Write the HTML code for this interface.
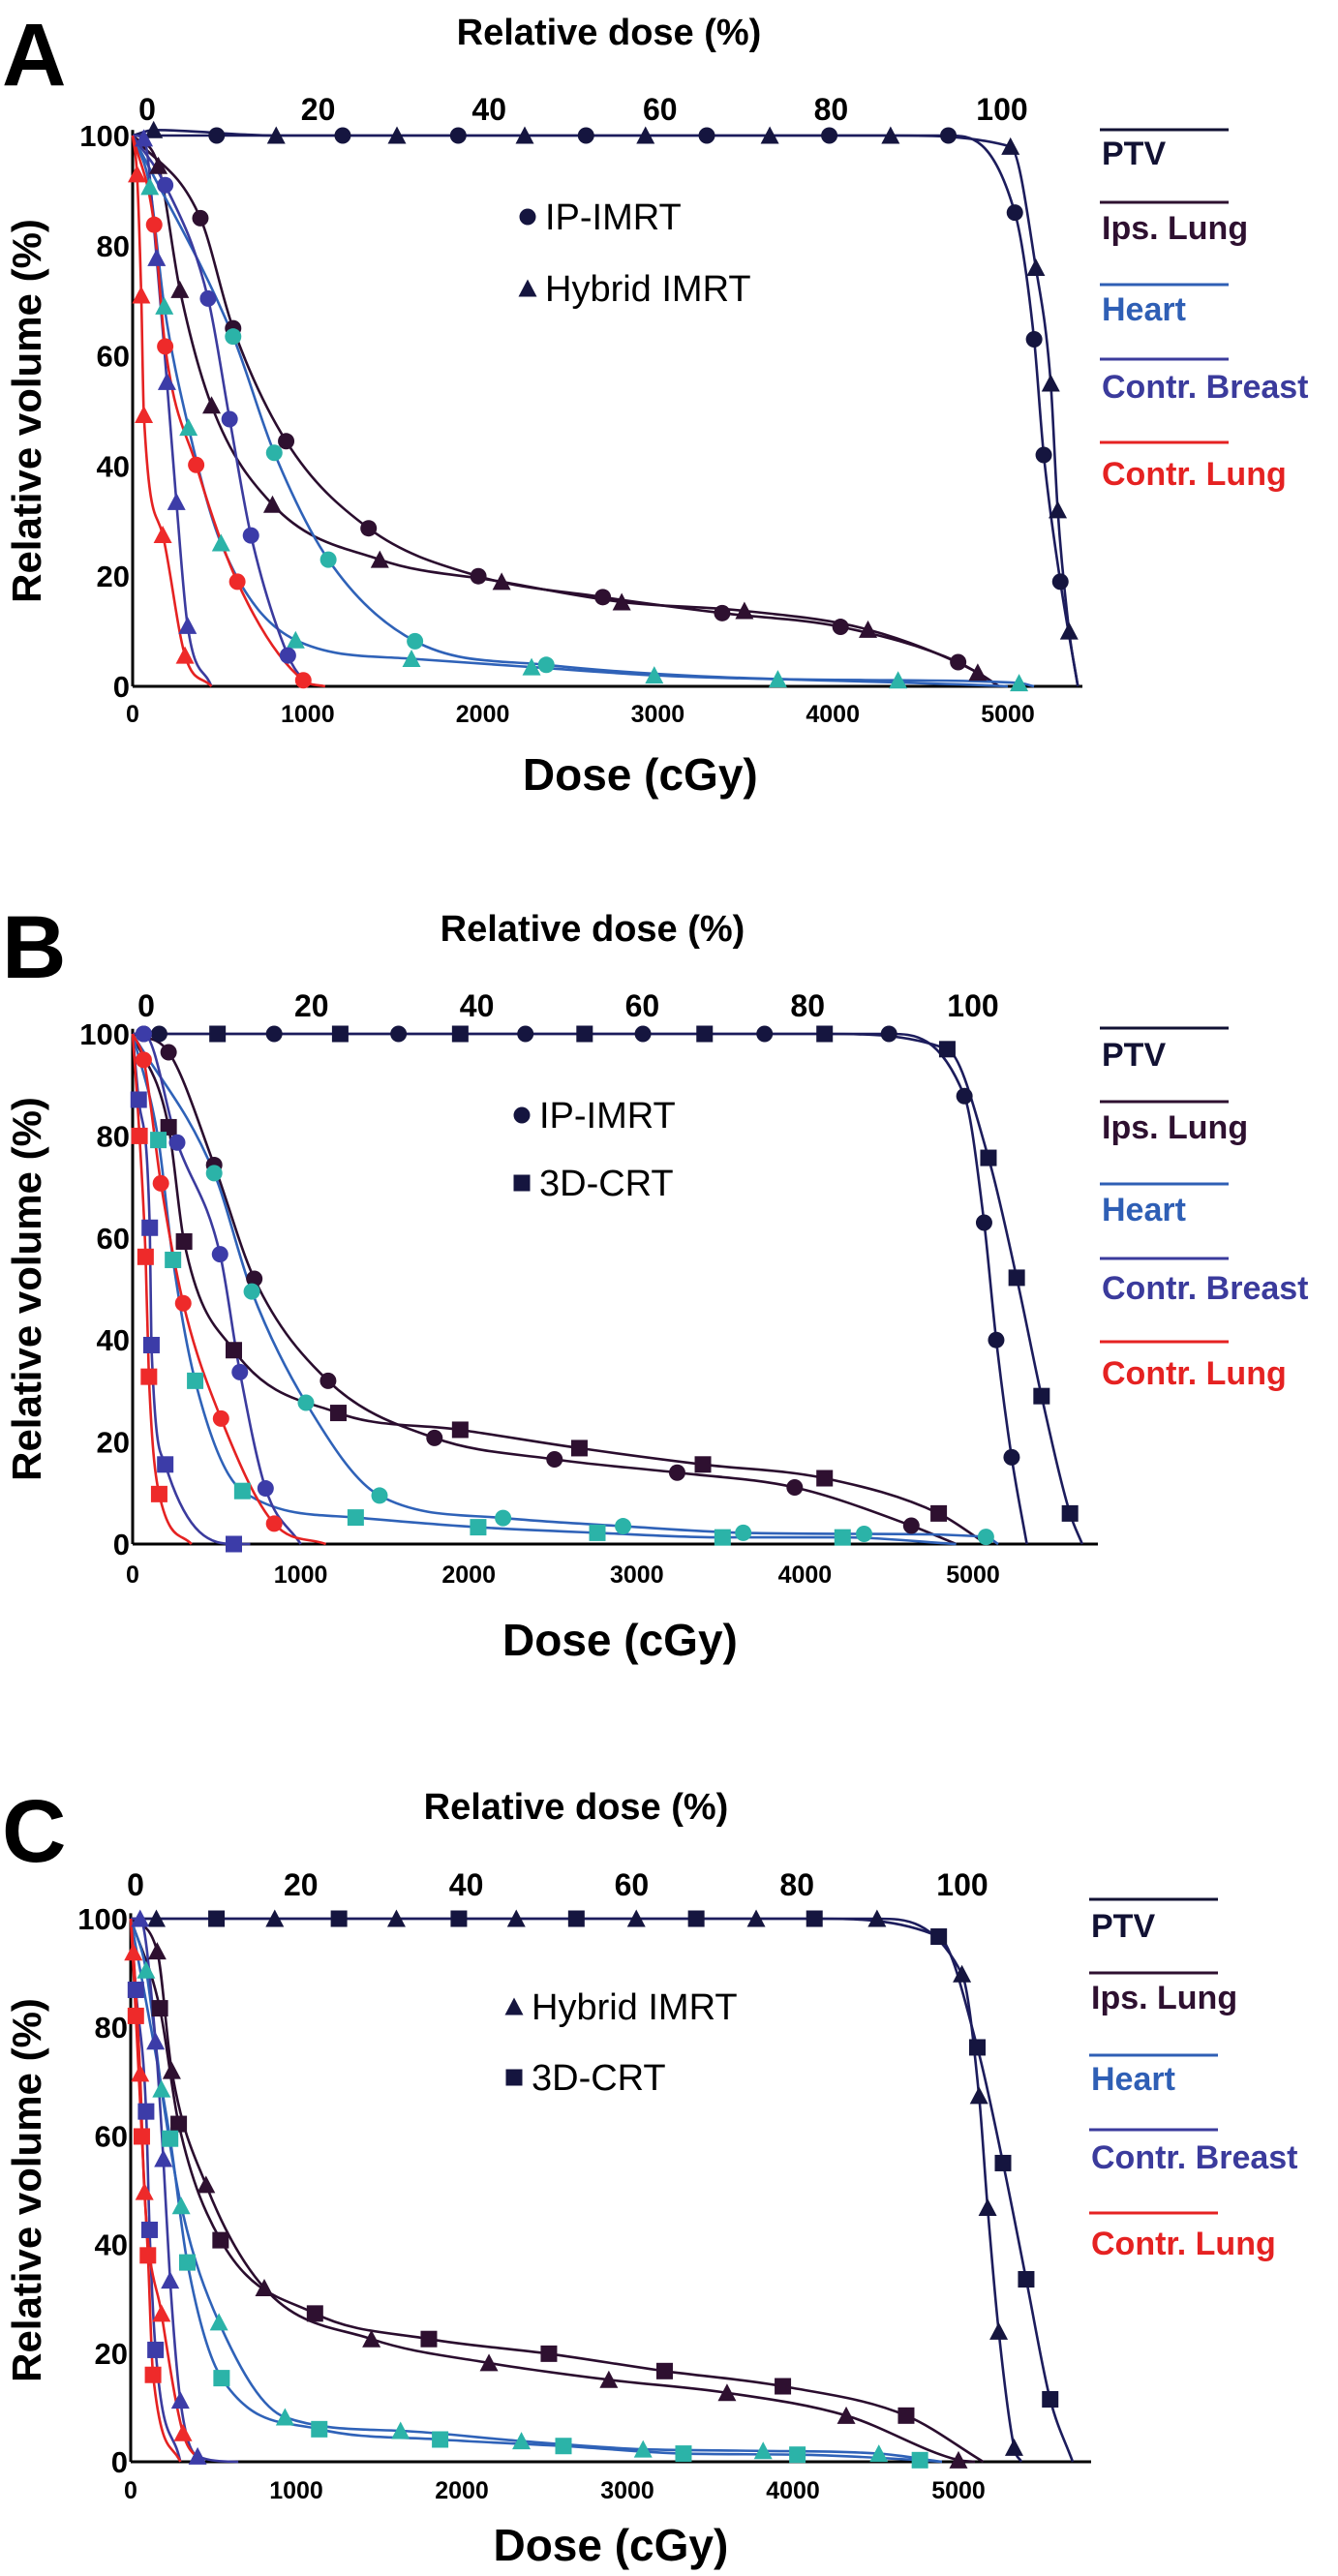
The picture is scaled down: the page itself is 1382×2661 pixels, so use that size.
<!DOCTYPE html>
<html><head><meta charset="utf-8"><style>
html,body{margin:0;padding:0;background:#fff}
svg{display:block}
text{font-family:"Liberation Sans",sans-serif;font-weight:bold}
</style></head><body>
<svg id="fig" width="1382" height="2661" viewBox="0 0 1382 2661" xmlns="http://www.w3.org/2000/svg"></svg>
<script>
// ---------- Data (dose cGy, volume %) ----------
// Panel A: IP-IMRT (circles) vs Hybrid IMRT (triangles)
var A_ptv_ip=[[480,100],[1200,100],[1860,100],[2590,100],[3280,100],[3980,100],[4660,100],[5040,86],[5150,63],[5205,42],[5300,19]];
var A_ptv_hy=[[120,101],[820,100],[1510,100],[2240,100],[2930,100],[3640,100],[4330,100],[5015,98],[5160,76],[5245,55],[5285,32],[5350,10]];
var A_ips_ip=[[387,85],[574,65],[877,44.5],[1348,28.7],[1975,20],[2686,16.2],[3368,13.3],[4044,10.8],[4716,4.4]];
var A_ips_hy=[[147,94.5],[270,72],[451,51],[799,33],[1412,23],[2108,19],[2794,15.3],[3495,13.7],[4201,10.3],[4828,2.5]];
var A_hrt_ip=[[574,63.5],[809,42.4],[1118,23],[1613,8.2],[2363,3.9]];
var A_hrt_hy=[[98,90.7],[181,69],[319,47],[505,26],[931,8.4],[1593,5],[2279,3.5],[2980,2],[3686,1.3],[4373,1.1],[5064,0.6]];
var A_brs_ip=[[186,91],[431,70.4],[554,48.5],[676,27.4],[887,5.6]];
var A_brs_hy=[[64,99.5],[137,77.8],[196,55.3],[250,33.5],[314,11]];
var A_lng_ip=[[123,83.8],[186,61.7],[363,40.2],[598,19],[975,1.1]];
var A_lng_hy=[[25,93],[49,71],[64,49.3],[172,27.5],[299,5.6]];
var A_ends=[5400,5400,4950,4950,5000,5150,1000,450,1100,450];
// Panel B: IP-IMRT (circles) vs 3D-CRT (squares)
var B_ptv_ip=[[66,100],[158,100],[842,100],[1582,100],[2337,100],[3036,100],[3760,100],[4500,100],[4949,87.8],[5066,63],[5138,40],[5230,17]];
var B_ptv_3d=[[505,100],[1235,100],[1949,100],[2689,100],[3403,100],[4117,100],[4847,97],[5092,75.7],[5260,52.2],[5408,29],[5577,6]];
var B_ips_ip=[[214,96.4],[485,74.3],[724,52],[1163,32],[1796,20.8],[2510,16.6],[3240,14],[3939,11.1],[4633,3.6]];
var B_ips_3d=[[214,81.7],[306,59.3],[602,38],[1224,25.7],[1949,22.4],[2658,18.8],[3393,15.6],[4117,12.9],[4796,6]];
var B_hrt_ip=[[485,72.7],[709,49.5],[1031,27.7],[1469,9.5],[2204,5.1],[2918,3.5],[3633,2.2],[4352,2],[5077,1.4]];
var B_hrt_3d=[[153,79.2],[240,55.7],[372,32],[653,10.4],[1327,5.2],[2056,3.3],[2765,2.2],[3510,1.3],[4224,1.3]];
var B_brs_ip=[[66,100],[265,78.7],[520,56.8],[638,33.7],[791,10.9]];
var B_brs_3d=[[36,87.1],[102,62],[112,39],[194,15.6],[602,0]];
var B_lng_ip=[[66,94.9],[168,70.7],[301,47.2],[526,24.6],[842,4]];
var B_lng_3d=[[41,80],[77,56.3],[97,32.8],[158,9.8]];
var B_ends=[5320,5650,4900,5080,5150,4900,1000,700,1150,350];
// Panel C: Hybrid IMRT (triangles) vs 3D-CRT (squares)
var C_ptv_hy=[[155,100],[870,100],[1605,100],[2329,100],[3054,100],[3778,100],[4508,100],[5021,89.8],[5124,67.4],[5176,46.8],[5243,24],[5336,2.6]];
var C_ptv_3d=[[518,100],[1258,100],[1982,100],[2692,100],[3416,100],[4130,100],[4881,96.7],[5114,76.3],[5269,55],[5409,33.6],[5554,11.5]];
var C_ips_hy=[[160,94],[248,72],[455,51],[807,32],[1454,22.6],[2164,18.2],[2888,15.1],[3602,12.7],[4322,8.5],[5000,0.3]];
var C_ips_3d=[[176,83.5],[290,62.2],[543,40.8],[1113,27.3],[1801,22.6],[2526,19.9],[3225,16.7],[3939,13.9],[4684,8.5]];
var C_hrt_hy=[[93,90.5],[186,68.6],[305,47.1],[533,25.7],[932,8.2],[1630,5.7],[2360,3.8],[3095,2.3],[3820,2],[4519,1.5]];
var C_hrt_3d=[[238,59.5],[342,36.7],[549,15.4],[1139,6],[1869,4.1],[2614,2.9],[3339,1.5],[4027,1.3],[4767,0.3]];
var C_brs_hy=[[57,100],[150,77.4],[197,55.8],[238,33.4],[300,11.3],[404,1]];
var C_brs_3d=[[31,86.9],[93,64.5],[114,42.7],[150,20.6]];
var C_lng_hy=[[16,93.8],[57,71.5],[83,49.7],[186,27.3],[316,5.3]];
var C_lng_3d=[[31,82.1],[67,59.9],[104,38],[135,16]];
var C_ends=[5380,5690,5100,5150,4900,4900,650,300,420,300];

var xTicks=[0,1000,2000,3000,4000,5000];
var yTicks=[0,20,40,60,80,100];
var relTicks=[0,20,40,60,80,100];
var organNames=["PTV","Ips. Lung","Heart","Contr. Breast","Contr. Lung"];

var NS="http://www.w3.org/2000/svg";
var svg=document.getElementById("fig");
var lineCol=["#1c1c5c","#2a0d2e","#2f62b8","#3b3b9e","#e52222"];
var mkCol=["#15153f","#2e1030","#2bb3a8","#3c3ca8","#ee2a2a"];
var legCol=["#111133","#2e1030","#2f5fb5","#3b3b9c","#e52222"];

function el(tag,attrs,parent){var e=document.createElementNS(NS,tag);for(var k in attrs)e.setAttribute(k,attrs[k]);(parent||svg).appendChild(e);return e;}
function txt(s,x,y,size,fill,anchor,parent){var t=el("text",{x:x,y:y,"font-size":size,fill:fill||"#000","text-anchor":anchor||"middle"},parent);t.textContent=s;return t;}

function monoPath(pts){
  var n=pts.length,dx=[],m=[],t=[];
  for(var i=0;i<n-1;i++){dx.push(pts[i+1][0]-pts[i][0]);m.push((pts[i+1][1]-pts[i][1])/dx[i]);}
  t[0]=m[0];t[n-1]=m[n-2];
  for(i=1;i<n-1;i++){t[i]=(m[i-1]*m[i]<=0)?0:(m[i-1]+m[i])/2;}
  for(i=0;i<n-1;i++){if(m[i]===0){t[i]=0;t[i+1]=0;continue;}var a=t[i]/m[i],b=t[i+1]/m[i],h=a*a+b*b;if(h>9){var s=3/Math.sqrt(h);t[i]=s*a*m[i];t[i+1]=s*b*m[i];}}
  var d="M"+pts[0][0].toFixed(1)+","+pts[0][1].toFixed(1);
  for(i=0;i<n-1;i++){var h3=dx[i]/3;d+="C"+(pts[i][0]+h3).toFixed(1)+","+(pts[i][1]+t[i]*h3).toFixed(1)+" "+(pts[i+1][0]-h3).toFixed(1)+","+(pts[i+1][1]-t[i+1]*h3).toFixed(1)+" "+pts[i+1][0].toFixed(1)+","+pts[i+1][1].toFixed(1);}
  return d;
}
function marker(shape,x,y,fill,g){
  var r=8.5,m;
  if(shape==="circle")m=el("circle",{cx:x,cy:y,r:r,fill:fill},g);
  else if(shape==="square")m=el("rect",{x:x-r,y:y-r,width:2*r,height:2*r,fill:fill},g);
  else m=el("polygon",{points:x+","+(y-r-1)+" "+(x+r+1)+","+(y+r)+" "+(x-r-1)+","+(y+r),fill:fill},g);
  return m;
}

function panel(P,seriesList,ends){
  var g=el("g",{});
  
  
  var sx=function(d){return P.x0+d*P.px/1000;};
  var sy=function(v){return P.y0-(P.y0-P.y100)*v/100;};
  var rx=function(r){return P.t0+(P.t100-P.t0)*r/100;};
  var L=txt(P.letter,2,P.letterY,92,"#000","start",g);
  
  var tt=txt("Relative dose (%)",P.titleX,P.titleY,38,"#000","middle",g);
  
  relTicks.forEach(function(r){var t=txt(String(r),rx(r),P.topY,32,"#000","middle",g);
    });
  yTicks.forEach(function(v){var t=txt(String(v),P.x0-3,sy(v)+11,31,"#000","end",g);
    });
  xTicks.forEach(function(v){var t=txt(String(v),sx(v),P.xLabY,25,"#000","middle",g);
    });
  var ya=el("line",{x1:P.x0,y1:sy(101),x2:P.x0,y2:P.y0,stroke:"#000","stroke-width":3},g);
  
  var xa=el("line",{x1:P.x0,y1:P.y0,x2:P.xEnd,y2:P.y0,stroke:"#000","stroke-width":3},g);
  
  var yt=txt("Relative volume (%)",0,0,42,"#000","middle",g);
  yt.setAttribute("transform","translate(42,"+((P.y0+P.y100)/2)+") rotate(-90)");
  
  var xt=txt("Dose (cGy)",P.x0+2900*P.px/1000,P.doseY,46,"#000","middle",g);
  
  seriesList.forEach(function(s,i){
    var pts=[[0,100]].concat(s.data).concat([[ends[i],0]]);
    var pp=pts.map(function(p){return [sx(p[0]),sy(p[1])];});
    var path=el("path",{d:monoPath(pp),fill:"none",stroke:lineCol[s.organ],"stroke-width":2.6},g);
    
  });
  seriesList.forEach(function(s){
    s.data.forEach(function(p){var m=marker(s.shape,sx(p[0]),sy(p[1]),mkCol[s.organ],g);
      });
  });
  P.methods.forEach(function(mm,i){
    var m=marker(mm.shape,P.mlX,P.mlY[i],"#15153f",g);
    
    var t=txt(mm.label,P.mlX+18,P.mlY[i]+13,38,"#000","start",g);
    t.setAttribute("style","font-weight:normal");
    
  });
  organNames.forEach(function(nm,i){
    var ln=el("line",{x1:P.lgX,y1:P.lgLine[i],x2:P.lgX+133,y2:P.lgLine[i],stroke:legCol[i],"stroke-width":3},g);
    
    var t=txt(nm,P.lgX+2,P.lgText[i]+13,34,legCol[i],"start",g);
    
  });
}

panel({letter:"A",letterY:88,titleX:629,titleY:46,topY:124,t0:152,t100:1035,x0:137,px:180.8,y0:709,y100:140,xEnd:1118,xLabY:746,doseY:816,
  methods:[{shape:"circle",label:"IP-IMRT"},{shape:"triangle",label:"Hybrid IMRT"}],mlX:545,mlY:[224,298],
  lgX:1136,lgLine:[134,209,294,371,457],lgText:[157,234,318,398,488]},
  [{name:"ptv-ip",organ:0,shape:"circle",data:A_ptv_ip},{name:"ptv-hybrid",organ:0,shape:"triangle",data:A_ptv_hy},
   {name:"ips-lung-ip",organ:1,shape:"circle",data:A_ips_ip},{name:"ips-lung-hybrid",organ:1,shape:"triangle",data:A_ips_hy},
   {name:"heart-ip",organ:2,shape:"circle",data:A_hrt_ip},{name:"heart-hybrid",organ:2,shape:"triangle",data:A_hrt_hy},
   {name:"breast-ip",organ:3,shape:"circle",data:A_brs_ip},{name:"breast-hybrid",organ:3,shape:"triangle",data:A_brs_hy},
   {name:"lung-ip",organ:4,shape:"circle",data:A_lng_ip},{name:"lung-hybrid",organ:4,shape:"triangle",data:A_lng_hy}],A_ends);
panel({letter:"B",letterY:1010,titleX:612,titleY:972,topY:1050,t0:151,t100:1005,x0:137,px:173.6,y0:1595,y100:1068,xEnd:1134,xLabY:1635,doseY:1710,
  methods:[{shape:"circle",label:"IP-IMRT"},{shape:"square",label:"3D-CRT"}],mlX:539,mlY:[1152,1222],
  lgX:1136,lgLine:[1062,1138,1223,1300,1386],lgText:[1088,1163,1248,1329,1417]},
  [{name:"ptv-ip",organ:0,shape:"circle",data:B_ptv_ip},{name:"ptv-3dcrt",organ:0,shape:"square",data:B_ptv_3d},
   {name:"ips-lung-ip",organ:1,shape:"circle",data:B_ips_ip},{name:"ips-lung-3dcrt",organ:1,shape:"square",data:B_ips_3d},
   {name:"heart-ip",organ:2,shape:"circle",data:B_hrt_ip},{name:"heart-3dcrt",organ:2,shape:"square",data:B_hrt_3d},
   {name:"breast-ip",organ:3,shape:"circle",data:B_brs_ip},{name:"breast-3dcrt",organ:3,shape:"square",data:B_brs_3d},
   {name:"lung-ip",organ:4,shape:"circle",data:B_lng_ip},{name:"lung-3dcrt",organ:4,shape:"square",data:B_lng_3d}],B_ends);
panel({letter:"C",letterY:1923,titleX:595,titleY:1879,topY:1958,t0:140,t100:994,x0:135,px:171,y0:2543,y100:1982,xEnd:1127,xLabY:2581,doseY:2645,
  methods:[{shape:"triangle",label:"Hybrid IMRT"},{shape:"square",label:"3D-CRT"}],mlX:531,mlY:[2073,2146],
  lgX:1125,lgLine:[1962,2038,2123,2200,2286],lgText:[1988,2062,2146,2227,2316]},
  [{name:"ptv-hybrid",organ:0,shape:"triangle",data:C_ptv_hy},{name:"ptv-3dcrt",organ:0,shape:"square",data:C_ptv_3d},
   {name:"ips-lung-hybrid",organ:1,shape:"triangle",data:C_ips_hy},{name:"ips-lung-3dcrt",organ:1,shape:"square",data:C_ips_3d},
   {name:"heart-hybrid",organ:2,shape:"triangle",data:C_hrt_hy},{name:"heart-3dcrt",organ:2,shape:"square",data:C_hrt_3d},
   {name:"breast-hybrid",organ:3,shape:"triangle",data:C_brs_hy},{name:"breast-3dcrt",organ:3,shape:"square",data:C_brs_3d},
   {name:"lung-hybrid",organ:4,shape:"triangle",data:C_lng_hy},{name:"lung-3dcrt",organ:4,shape:"square",data:C_lng_3d}],C_ends);
</script>
</body></html>
